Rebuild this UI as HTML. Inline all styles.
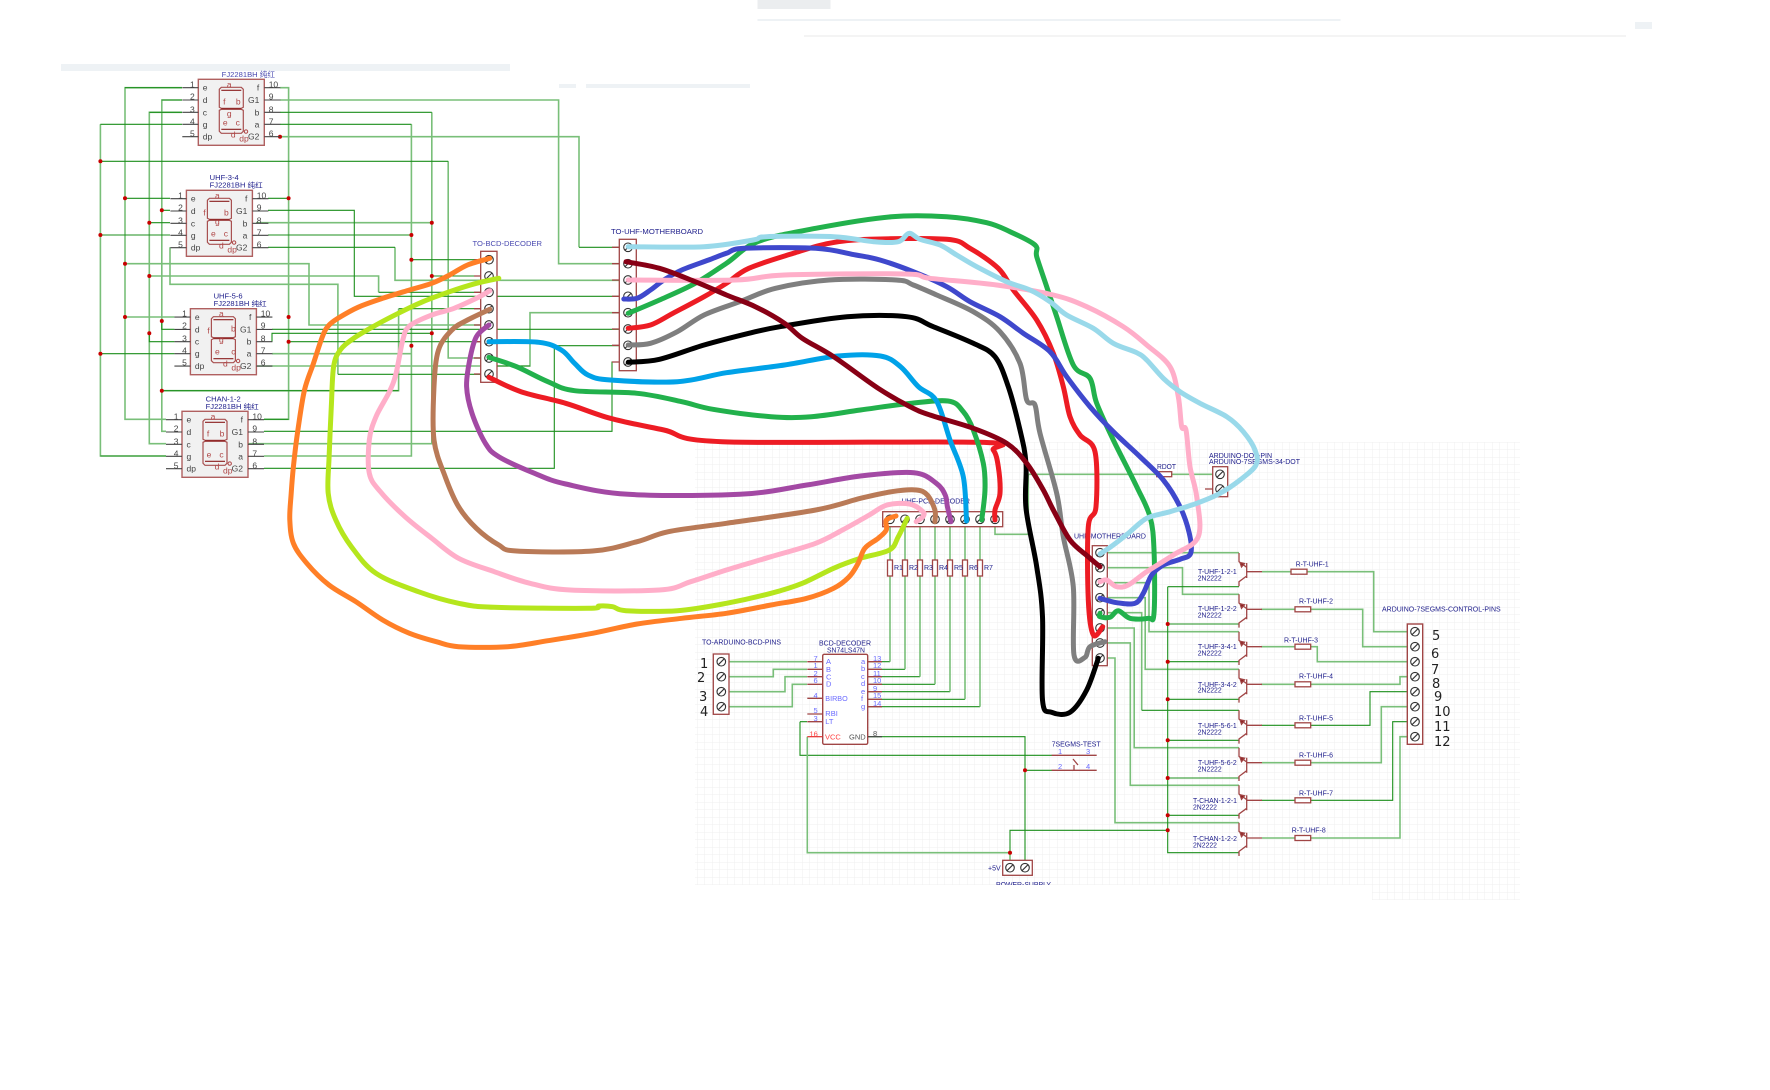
<!DOCTYPE html>
<html><head><meta charset="utf-8"><style>
html,body{margin:0;padding:0;background:#fff;width:1770px;height:1090px;overflow:hidden}
svg{display:block;filter:blur(.35px)}
text{font-family:"Liberation Sans","Noto Sans CJK SC",sans-serif}
.l{fill:none;stroke:#79bf79;stroke-width:1.6}
.d{fill:none;stroke:#1c8f1c;stroke-width:1.1}
.w{fill:none;stroke-width:5;stroke-linejoin:round;stroke-linecap:round}
.m{fill:none;stroke:#a04545;stroke-width:1.3}
.p{font-size:8.5px;fill:#444}
.s{font-size:8.5px;fill:#b04848}
.t{font-size:7px;fill:#20208c}
.h{font-size:7.5px;fill:#4a4ab0}
.b{font-size:7.5px;fill:#6a6aff}
.n{font-size:13px;fill:#222;font-family:"DejaVu Sans",sans-serif}
.r{fill:#fff;stroke:#a04545;stroke-width:1.3}
</style></head><body>
<svg width="1770" height="1090" viewBox="0 0 1770 1090" xmlns="http://www.w3.org/2000/svg">
<defs>
<pattern id="grid" width="7.5" height="7.5" patternUnits="userSpaceOnUse"><path d="M7.5 0V7.5H0" fill="none" stroke="#efefef" stroke-width="1"/></pattern>
<g id="seg"><rect x="0" y="0" width="66" height="66" fill="#f1f1f1" stroke="#b06060" stroke-width="1.4"/>
<g fill="none" stroke="#a85050" stroke-width="1.2"><path d="M23 8H43L45 10V28L43 29H23L21 28V10Z"/><path d="M23 30H43L45 31V52L43 54H23L21 52V31Z"/></g>
<path d="M23 11H43M23 29.500H43M23 50H43" stroke="#8c1f1f" stroke-width="1.2"/>
<circle cx="47.700" cy="52.300" r="1.700" fill="none" stroke="#b04848" stroke-width="1"/>
<path d="M-16 8.400H0M-16 20.700H0M-16 33H0M-16 45H0M-16 57.400H0M66 8.400H82M66 20.700H82M66 33H82M66 45H82M66 57.400H82" stroke="#444" stroke-width="1.1"/></g>
<g id="q" fill="none" stroke="#a04545" stroke-width="1.3"><path d="M1239 0V8.700L1246.700 14.300M1246.700 10V25M1246.700 23L1239 28.700V33.300"/><path d="M1240 9.500L1244.500 10.500L1241.500 14Z" fill="#8c1f1f"/></g>
<g id="sc"><circle r="4.300" fill="#fff" stroke="#333" stroke-width="1.100"/><path d="M-3-3L3 3" transform="rotate(90)" stroke="#333" stroke-width="1.100"/></g>
<g id="rv"><rect x="-2.500" y="0" width="5" height="16" class="r"/></g>
</defs>

<!-- grid and faint bars -->
<rect x="695" y="442" width="825" height="443" fill="url(#grid)"/>
<rect x="1372" y="885" width="148" height="15" fill="url(#grid)"/>
<g fill="#eef2f5"><rect x="61" y="64" width="449" height="7"/><rect x="559" y="84" width="17" height="4"/><rect x="586" y="84" width="164" height="4"/><rect x="757.500" y="19" width="583" height="2"/><rect x="1635" y="22" width="17" height="7"/><rect x="757.500" y="0" width="73" height="9" fill="#ebedef"/><rect x="804" y="35" width="822" height="2" fill="#f4f4f4"/></g>

<!-- left wires -->
<path class="l" d="M280 87.700H288.600V419.300H264M182 87.700H125V419.300H166M182 100H161.800V431.300H166M182 112.300H149.300V443.700H166M100.400 124.300V456H166M280 100H558.600V263.700H619M431.800 112.300V443.700H264M411.400 124.300V456H264M448.200 161.300V358H481M280 136.700H579V247.300M170 247.300V284.300H337.900V374.300M125 263.700H309V325H481M149.300 276H378.600V292.300M398.600 308.700V390.700H161.800M125 317H174.400M256 222.700H431.800M272 353.700H411.400M272 366H530V312.700H619M480 280.300H619M395 247.300V280.300H480M268 222.700H431.800M256 366H272M248 443.700H431.800"/>
<path class="d" d="M182 87.700H125M182 100H161.800M182 112.300H149.300M182 124.300H100.400M280 112.300H431.800M280 124.300H411.400M100.400 161.300H448.200M125 198.300H170M288.600 198.300H268M161.800 210.300H170M149.300 222.700H170M100.400 235H170M268 210.300H354.300V296.300H619M268 235H411.400M268 247.300H395M579 247.300H619M411.400 259.700H481M431.800 276H481M378.600 292.300H481M398.600 308.700H481M337.900 374.300H481M161.800 321V329.300H174.400M149.300 333.300V341.700H174.400M100.400 353.700H174.400M272 329.300H619M272 341.700V333.300H431.800M288.600 341.700H481M530 366H481M264 431.300H612V362H619M264 468.300H554.300V345.700H619M161.800 390.700H398.600M264 419.300H288.600M166 456H100.400"/>

<!-- left red dots -->
<g fill="#c80000"><circle cx="280" cy="136.700" r="2"/><circle cx="100.400" cy="161.300" r="2"/><circle cx="125" cy="198.300" r="2"/><circle cx="288.600" cy="198.300" r="2"/><circle cx="161.800" cy="210.300" r="2"/><circle cx="149.300" cy="222.700" r="2"/><circle cx="100.400" cy="235" r="2"/><circle cx="431.800" cy="222.700" r="2"/><circle cx="411.400" cy="235" r="2"/><circle cx="411.400" cy="259.700" r="2"/><circle cx="125" cy="263.700" r="2"/><circle cx="149.300" cy="276" r="2"/><circle cx="431.800" cy="276" r="2"/><circle cx="125" cy="317" r="2"/><circle cx="288.600" cy="317" r="2"/><circle cx="161.800" cy="321" r="2"/><circle cx="149.300" cy="333.300" r="2"/><circle cx="431.800" cy="333.300" r="2"/><circle cx="288.600" cy="341.700" r="2"/><circle cx="411.400" cy="345.700" r="2"/><circle cx="100.400" cy="353.700" r="2"/><circle cx="161.800" cy="390.700" r="2"/></g>

<!-- seven segment displays -->
<g transform="translate(198.300,79.300)"><use href="#seg"/>
<text class="p" x="-8.300" y="8">1</text><text class="p" x="-8.300" y="20">2</text><text class="p" x="-8.300" y="33">3</text><text class="p" x="-8.300" y="45">4</text><text class="p" x="-8.300" y="57">5</text>
<text class="p" x="4.500" y="11.400">e</text><text class="p" x="4.500" y="23.700">d</text><text class="p" x="4.500" y="36">c</text><text class="p" x="4.500" y="48">g</text><text class="p" x="4.500" y="60.400">dp</text>
<text class="p" x="61" y="11.400" text-anchor="end">f</text><text class="p" x="61" y="23.700" text-anchor="end">G1</text><text class="p" x="61" y="36" text-anchor="end">b</text><text class="p" x="61" y="48" text-anchor="end">a</text><text class="p" x="61" y="60.400" text-anchor="end">G2</text>
<text class="p" x="70.400" y="8">10</text><text class="p" x="70.400" y="20">9</text><text class="p" x="70.400" y="33">8</text><text class="p" x="70.400" y="45">7</text><text class="p" x="70.400" y="57">6</text>
<text class="s" x="31" y="8" text-anchor="middle">a</text><text class="s" x="26" y="25" text-anchor="middle">f</text><text class="s" x="40" y="25" text-anchor="middle">b</text><text class="s" x="31" y="37" text-anchor="middle">g</text><text class="s" x="27" y="46" text-anchor="middle">e</text><text class="s" x="39.500" y="46" text-anchor="middle">c</text><text class="s" x="35" y="58" text-anchor="middle">d</text><text class="s" x="41" y="62">dp</text></g>
<text class="h" x="221.700" y="77" textLength="53.300" lengthAdjust="spacingAndGlyphs">FJ2281BH 纯红</text>

<g transform="translate(186.400,190.300)"><use href="#seg"/>
<text class="p" x="-8.300" y="8">1</text><text class="p" x="-8.300" y="20">2</text><text class="p" x="-8.300" y="33">3</text><text class="p" x="-8.300" y="45">4</text><text class="p" x="-8.300" y="57">5</text>
<text class="p" x="4.500" y="11.400">e</text><text class="p" x="4.500" y="23.700">d</text><text class="p" x="4.500" y="36">c</text><text class="p" x="4.500" y="48">g</text><text class="p" x="4.500" y="60.400">dp</text>
<text class="p" x="61" y="11.400" text-anchor="end">f</text><text class="p" x="61" y="23.700" text-anchor="end">G1</text><text class="p" x="61" y="36" text-anchor="end">b</text><text class="p" x="61" y="48" text-anchor="end">a</text><text class="p" x="61" y="60.400" text-anchor="end">G2</text>
<text class="p" x="70.400" y="8">10</text><text class="p" x="70.400" y="20">9</text><text class="p" x="70.400" y="33">8</text><text class="p" x="70.400" y="45">7</text><text class="p" x="70.400" y="57">6</text>
<text class="s" x="31" y="8" text-anchor="middle">a</text><text class="s" x="18" y="25" text-anchor="middle">f</text><text class="s" x="40" y="25" text-anchor="middle">b</text><text class="s" x="31" y="34" text-anchor="middle">g</text><text class="s" x="27" y="46" text-anchor="middle">e</text><text class="s" x="39.500" y="46" text-anchor="middle">c</text><text class="s" x="35" y="58" text-anchor="middle">d</text><text class="s" x="41" y="62">dp</text></g>
<text class="t" x="209.700" y="180" textLength="29" lengthAdjust="spacingAndGlyphs">UHF-3-4</text>
<text class="t" x="209.700" y="187.500" textLength="53" lengthAdjust="spacingAndGlyphs">FJ2281BH 纯红</text>

<g transform="translate(190.400,308.700)"><use href="#seg"/>
<text class="p" x="-8.300" y="8">1</text><text class="p" x="-8.300" y="20">2</text><text class="p" x="-8.300" y="33">3</text><text class="p" x="-8.300" y="45">4</text><text class="p" x="-8.300" y="57">5</text>
<text class="p" x="4.500" y="11.400">e</text><text class="p" x="4.500" y="23.700">d</text><text class="p" x="4.500" y="36">c</text><text class="p" x="4.500" y="48">g</text><text class="p" x="4.500" y="60.400">dp</text>
<text class="p" x="61" y="11.400" text-anchor="end">f</text><text class="p" x="61" y="23.700" text-anchor="end">G1</text><text class="p" x="61" y="36" text-anchor="end">b</text><text class="p" x="61" y="48" text-anchor="end">a</text><text class="p" x="61" y="60.400" text-anchor="end">G2</text>
<text class="p" x="70.400" y="8">10</text><text class="p" x="70.400" y="20">9</text><text class="p" x="70.400" y="33">8</text><text class="p" x="70.400" y="45">7</text><text class="p" x="70.400" y="57">6</text>
<text class="s" x="31" y="8" text-anchor="middle">a</text><text class="s" x="18" y="25" text-anchor="middle">f</text><text class="s" x="43" y="23" text-anchor="middle">b</text><text class="s" x="31" y="34" text-anchor="middle">g</text><text class="s" x="27" y="46" text-anchor="middle">e</text><text class="s" x="43" y="46" text-anchor="middle">c</text><text class="s" x="35" y="58" text-anchor="middle">d</text><text class="s" x="41" y="62">dp</text></g>
<text class="t" x="213.600" y="298.500" textLength="29" lengthAdjust="spacingAndGlyphs">UHF-5-6</text>
<text class="t" x="213.600" y="306" textLength="53" lengthAdjust="spacingAndGlyphs">FJ2281BH 纯红</text>

<g transform="translate(182,411.300)"><use href="#seg"/>
<text class="p" x="-8.300" y="8">1</text><text class="p" x="-8.300" y="20">2</text><text class="p" x="-8.300" y="33">3</text><text class="p" x="-8.300" y="45">4</text><text class="p" x="-8.300" y="57">5</text>
<text class="p" x="4.500" y="11.400">e</text><text class="p" x="4.500" y="23.700">d</text><text class="p" x="4.500" y="36">c</text><text class="p" x="4.500" y="48">g</text><text class="p" x="4.500" y="60.400">dp</text>
<text class="p" x="61" y="11.400" text-anchor="end">f</text><text class="p" x="61" y="23.700" text-anchor="end">G1</text><text class="p" x="61" y="36" text-anchor="end">b</text><text class="p" x="61" y="48" text-anchor="end">a</text><text class="p" x="61" y="60.400" text-anchor="end">G2</text>
<text class="p" x="70.400" y="8">10</text><text class="p" x="70.400" y="20">9</text><text class="p" x="70.400" y="33">8</text><text class="p" x="70.400" y="45">7</text><text class="p" x="70.400" y="57">6</text>
<text class="s" x="31" y="8" text-anchor="middle">a</text><text class="s" x="26" y="25" text-anchor="middle">f</text><text class="s" x="40" y="25" text-anchor="middle">b</text><text class="s" x="27" y="46" text-anchor="middle">e</text><text class="s" x="39.500" y="46" text-anchor="middle">c</text><text class="s" x="35" y="58" text-anchor="middle">d</text><text class="s" x="41" y="62">dp</text></g>
<text class="t" x="205.700" y="401.500" textLength="35" lengthAdjust="spacingAndGlyphs">CHAN-1-2</text>
<text class="t" x="205.700" y="409" textLength="53" lengthAdjust="spacingAndGlyphs">FJ2281BH 纯红</text>

<!-- Left connectors -->
<rect x="480.700" y="251.300" width="16.300" height="131" fill="#fff" stroke="#a04545" stroke-width="1.300"/>
<path class="m" d="M474 259.700H481M474 276H481M474 292.300H481M474 308.700H481M474 325H481M474 341.700H481M474 358H481M474 374H481"/>
<g><use href="#sc" x="489" y="259.700"/><use href="#sc" x="489" y="276"/><use href="#sc" x="489" y="292.300"/><use href="#sc" x="489" y="308.700"/><use href="#sc" x="489" y="325"/><use href="#sc" x="489" y="341.700"/><use href="#sc" x="489" y="358"/><use href="#sc" x="489" y="374"/></g>
<text class="h" x="472.500" y="246" textLength="69.500" lengthAdjust="spacingAndGlyphs" style="font-size:7.500px">TO-BCD-DECODER</text>
<rect x="619.300" y="239.300" width="17" height="131.400" fill="#fff" stroke="#a04545" stroke-width="1.300"/>
<path class="m" d="M612 247.300H619M612 263.700H619M612 280H619M612 296.300H619M612 312.700H619M612 329H619M612 345.300H619M612 362H619"/>
<g><use href="#sc" x="628" y="247.300"/><use href="#sc" x="628" y="263.700"/><use href="#sc" x="628" y="280"/><use href="#sc" x="628" y="296.300"/><use href="#sc" x="628" y="312.700"/><use href="#sc" x="628" y="329"/><use href="#sc" x="628" y="345.300"/><use href="#sc" x="628" y="362"/></g>
<text class="t" x="611" y="234" textLength="92" lengthAdjust="spacingAndGlyphs">TO-UHF-MOTHERBOARD</text>

<!-- right wires -->
<path class="d" d="M890 661.700H868M905 669.300H868M920 676.700H868M935 684.300H868M950 691.700H868M965 699.300H868M980 706.700H868"/>
<path class="l" d="M890 527V560M905 527V560M920 527V560M935 527V560M950 527V560M965 527V560M980 527V560M890 576V661.700M905 576V669.300M920 576V676.700M935 576V684.300M950 576V691.700M965 576V699.300M980 576V706.700"/>
<path class="l" d="M729 661.700H807M729 676.700H773.300V669.300H807M729 691.700H785V676.700H807M729 706.700H792.300V684.300H807"/>
<path class="d" d="M868 736.700H1025V860M800 721.700V755.300H1052M807 721.700H800M1025 770.300H1052M1010 852.700V830.300H1168"/>
<path class="l" d="M807.300 736.700V852.700H1010V860M1107 552.700H1239M1107 567.700H1182.500V594.300H1239M1107 582.700H1149V631.700H1239M1107 597.700H1145.200V669.300H1239M1107 612.700H1141.700V710.300M1107 628H1134.200V747.700H1239M1107 642.900H1130.300V785.300H1239M1107 658H1115V822.700H1239M995 527V534.300H1028.300V474.300H1156.700M1171.700 474.300H1212.700"/>
<path class="d" d="M1141.700 710.300H1239M1167.700 586.700V852.700H1239M1167.700 586.700H1239M1167.700 624H1239M1167.700 661.700H1239M1167.700 699.300H1239M1167.700 740.300H1239M1167.700 778H1239M1167.700 815.300H1239"/>
<path class="l" d="M1262 571.700H1291M1307 571.700H1373.700V631.700H1407M1310.700 609.300H1362.700V646.700H1407M1261 609.300H1295M1261 646.700H1295M1310.700 646.700H1317.300V661.700H1407M1261 684.300H1295M1310.700 684.300H1400V676.700H1407M1262 762.700H1295M1310.700 762.700H1381.300V706.700H1407M1262 838H1295M1310.700 838H1400V736.700H1407"/>
<path class="d" d="M1261 725.300H1295M1310.700 725.300H1370V691.700H1407M1261 800.300H1295M1310.700 800.300H1392.700V721.700H1407"/>
<g fill="#c80000"><circle cx="1167.700" cy="624" r="2"/><circle cx="1167.700" cy="661.700" r="2"/><circle cx="1167.700" cy="699.300" r="2"/><circle cx="1167.700" cy="740.300" r="2"/><circle cx="1167.700" cy="778" r="2"/><circle cx="1167.700" cy="815.300" r="2"/><circle cx="1167.700" cy="830.300" r="2"/><circle cx="1025" cy="770.300" r="2"/><circle cx="1010" cy="852.700" r="2"/></g>

<!-- R1-R7 -->
<use href="#rv" x="890" y="560"/><use href="#rv" x="905" y="560"/><use href="#rv" x="920" y="560"/><use href="#rv" x="935" y="560"/><use href="#rv" x="950" y="560"/><use href="#rv" x="965" y="560"/><use href="#rv" x="980" y="560"/>
<g class="t"><text class="t" x="894" y="570">R1</text><text class="t" x="909" y="570">R2</text><text class="t" x="924" y="570">R3</text><text class="t" x="939" y="570">R4</text><text class="t" x="954" y="570">R5</text><text class="t" x="969" y="570">R6</text><text class="t" x="984" y="570">R7</text></g>

<!-- PCB decoder connector -->
<rect x="882.700" y="511.700" width="120" height="15" fill="#fff" stroke="#a04545" stroke-width="1.300"/>
<use href="#sc" x="890" y="519.300"/><use href="#sc" x="905" y="519.300"/><use href="#sc" x="920" y="519.300"/><use href="#sc" x="935" y="519.300"/><use href="#sc" x="950" y="519.300"/><use href="#sc" x="965" y="519.300"/><use href="#sc" x="980" y="519.300"/><use href="#sc" x="995" y="519.300"/>
<text class="t" x="901.700" y="503.500" textLength="68.300" lengthAdjust="spacingAndGlyphs">UHF-PCB-DECODER</text>

<!-- arduino BCD pins -->
<rect x="713.300" y="654" width="15.700" height="60.300" fill="#fff" stroke="#a04545" stroke-width="1.300"/>
<use href="#sc" x="721.300" y="661.700"/><use href="#sc" x="721.300" y="676.700"/><use href="#sc" x="721.300" y="691.700"/><use href="#sc" x="721.300" y="706.700"/>
<text class="t" x="702" y="644.500" textLength="79" lengthAdjust="spacingAndGlyphs">TO-ARDUINO-BCD-PINS</text>
<text class="n" x="700" y="668">1</text><text class="n" x="697" y="682">2</text><text class="n" x="699" y="701">3</text><text class="n" x="700" y="716">4</text>

<!-- Decoder -->
<rect x="822.700" y="654.300" width="45" height="90" rx="1.500" fill="#fff" stroke="#a04545" stroke-width="1.400"/>
<path class="m" d="M807.300 661.700H822.700M807.300 669.300H822.700M807.300 676.700H822.700M807.300 684.300H822.700M807.300 698.300H822.700M807.300 714H822.700M807.300 721.700H822.700M868 661.700H882M868 669.300H882M868 676.700H882M868 684.300H882M868 691.700H882M868 699.300H882M868 706.700H882"/>
<path d="M807.300 736.700H822.700" stroke="#e03030" stroke-width="1.200"/><path d="M868 736.700H882" stroke="#444" stroke-width="1.200"/>
<text class="b" x="826" y="664">A</text><text class="b" x="826" y="672">B</text><text class="b" x="826" y="679.500">C</text><text class="b" x="826" y="686.500">D</text><text class="b" x="825.300" y="701" textLength="22.400" lengthAdjust="spacingAndGlyphs">BIRBO</text><text class="b" x="825.300" y="716">RBI</text><text class="b" x="825.300" y="724">LT</text>
<text class="b" x="825" y="739.500" style="fill:#ff4040">VCC</text><text class="b" x="849" y="739.500" style="fill:#555">GND</text>
<text class="b" x="861" y="664">a</text><text class="b" x="861" y="671">b</text><text class="b" x="861" y="679">c</text><text class="b" x="861" y="686">d</text><text class="b" x="861" y="694">e</text><text class="b" x="861" y="701">f</text><text class="b" x="861" y="709">g</text>
<text class="b" x="813.500" y="661">7</text><text class="b" x="813.500" y="668">1</text><text class="b" x="813.500" y="676">2</text><text class="b" x="813.500" y="683">6</text><text class="b" x="813.500" y="698">4</text><text class="b" x="813.500" y="713">5</text><text class="b" x="813.500" y="721">3</text><text class="b" x="809.500" y="736.500" style="fill:#ff4040">16</text>
<text class="b" x="873" y="661">13</text><text class="b" x="873" y="668">12</text><text class="b" x="873" y="676">11</text><text class="b" x="873" y="683">10</text><text class="b" x="873" y="691">9</text><text class="b" x="873" y="698">15</text><text class="b" x="873" y="706">14</text><text class="b" x="873" y="736" style="fill:#555">8</text>
<text class="t" x="819" y="645.500" textLength="52" lengthAdjust="spacingAndGlyphs">BCD-DECODER</text>
<text class="t" x="827" y="652.500" textLength="38" lengthAdjust="spacingAndGlyphs">SN74LS47N</text>

<!-- Switch -->
<path class="m" d="M1051.700 755.300H1096.700M1051.700 770.300H1096.700M1073 759L1078 765M1074 765V770"/>
<text class="t" x="1051.700" y="746.500" textLength="49" lengthAdjust="spacingAndGlyphs">7SEGMS-TEST</text>
<text class="b" x="1058" y="754">1</text><text class="b" x="1086" y="754">3</text><text class="b" x="1058" y="769">2</text><text class="b" x="1086" y="769">4</text>

<!-- +5V -->
<rect x="1002.700" y="860.300" width="29.600" height="15" fill="#fff" stroke="#a04545" stroke-width="1.300"/>
<use href="#sc" x="1010" y="867.700"/><use href="#sc" x="1025" y="867.700"/>
<text class="t" x="988" y="870.500">+5V</text>
<text class="t" x="996" y="887" textLength="55" lengthAdjust="spacingAndGlyphs">POWER-SUPPLY</text>
<rect x="990" y="885" width="70" height="6" fill="#fff"/>

<!-- Motherboard connector -->
<rect x="1092.300" y="545.700" width="15" height="120" fill="#fff" stroke="#a04545" stroke-width="1.300"/>
<use href="#sc" x="1100" y="552.700"/><use href="#sc" x="1100" y="567.700"/><use href="#sc" x="1100" y="582.700"/><use href="#sc" x="1100" y="597.700"/><use href="#sc" x="1100" y="612.700"/><use href="#sc" x="1100" y="628"/><use href="#sc" x="1100" y="643"/><use href="#sc" x="1100" y="658"/>
<text class="t" x="1074" y="538.500" textLength="72" lengthAdjust="spacingAndGlyphs">UHF-MOTHERBOARD</text>

<!-- RDOT & dot connector -->
<rect x="1156.700" y="471.700" width="15" height="5" class="r"/>
<text class="t" x="1157" y="469" textLength="19" lengthAdjust="spacingAndGlyphs">RDOT</text>
<rect x="1212.700" y="466.700" width="15" height="30" fill="#fff" stroke="#a04545" stroke-width="1.300"/>
<path class="m" d="M1205 489H1212.700"/>
<use href="#sc" x="1220" y="474.300"/><use href="#sc" x="1220" y="489"/>
<text class="t" x="1209" y="458" textLength="63" lengthAdjust="spacingAndGlyphs">ARDUINO-DOT-PIN</text>
<text class="t" x="1209" y="464" textLength="91" lengthAdjust="spacingAndGlyphs">ARDUINO-7SEGMS-34-DOT</text>

<!-- transistors -->
<use href="#q" y="553"/><use href="#q" y="594.300"/><use href="#q" y="631.700"/><use href="#q" y="669.300"/><use href="#q" y="710.300"/><use href="#q" y="747.700"/><use href="#q" y="785.300"/><use href="#q" y="822.700"/>
<path class="m" d="M1246.700 571.700H1262M1246.700 609.300H1262M1246.700 646.700H1262M1246.700 684.300H1262M1246.700 725.300H1262M1246.700 762.700H1262M1246.700 800.300H1262M1246.700 838H1262"/>
<g>
<text class="t" x="1198" y="574" textLength="38.700" lengthAdjust="spacingAndGlyphs">T-UHF-1-2-1</text><text class="t" x="1197.700" y="580.700" textLength="24" lengthAdjust="spacingAndGlyphs">2N2222</text>
<text class="t" x="1198" y="611" textLength="38.700" lengthAdjust="spacingAndGlyphs">T-UHF-1-2-2</text><text class="t" x="1197.700" y="617.700" textLength="24" lengthAdjust="spacingAndGlyphs">2N2222</text>
<text class="t" x="1198" y="649" textLength="38.700" lengthAdjust="spacingAndGlyphs">T-UHF-3-4-1</text><text class="t" x="1197.700" y="655.700" textLength="24" lengthAdjust="spacingAndGlyphs">2N2222</text>
<text class="t" x="1198" y="687" textLength="38.700" lengthAdjust="spacingAndGlyphs">T-UHF-3-4-2</text><text class="t" x="1197.700" y="692.700" textLength="24" lengthAdjust="spacingAndGlyphs">2N2222</text>
<text class="t" x="1198" y="728" textLength="38.700" lengthAdjust="spacingAndGlyphs">T-UHF-5-6-1</text><text class="t" x="1197.700" y="734.700" textLength="24" lengthAdjust="spacingAndGlyphs">2N2222</text>
<text class="t" x="1198" y="765" textLength="38.700" lengthAdjust="spacingAndGlyphs">T-UHF-5-6-2</text><text class="t" x="1197.700" y="771.700" textLength="24" lengthAdjust="spacingAndGlyphs">2N2222</text>
<text class="t" x="1193" y="803" textLength="44" lengthAdjust="spacingAndGlyphs">T-CHAN-1-2-1</text><text class="t" x="1193" y="809.700" textLength="24" lengthAdjust="spacingAndGlyphs">2N2222</text>
<text class="t" x="1193" y="841" textLength="44" lengthAdjust="spacingAndGlyphs">T-CHAN-1-2-2</text><text class="t" x="1193" y="847.700" textLength="24" lengthAdjust="spacingAndGlyphs">2N2222</text>
</g>

<!-- base resistors -->
<rect x="1291" y="569.200" width="16" height="5" class="r"/><rect x="1295" y="606.800" width="15.700" height="5" class="r"/><rect x="1295" y="644.200" width="15.700" height="5" class="r"/><rect x="1295" y="681.800" width="15.700" height="5" class="r"/><rect x="1295" y="722.800" width="15.700" height="5" class="r"/><rect x="1295" y="760.200" width="15.700" height="5" class="r"/><rect x="1295" y="797.800" width="15.700" height="5" class="r"/><rect x="1295" y="835.500" width="15.700" height="5" class="r"/>
<text class="t" x="1295.700" y="566.500" textLength="33" lengthAdjust="spacingAndGlyphs">R-T-UHF-1</text>
<text class="t" x="1299" y="603.500" textLength="34" lengthAdjust="spacingAndGlyphs">R-T-UHF-2</text>
<text class="t" x="1284" y="642.500" textLength="34" lengthAdjust="spacingAndGlyphs">R-T-UHF-3</text>
<text class="t" x="1299" y="678.500" textLength="34" lengthAdjust="spacingAndGlyphs">R-T-UHF-4</text>
<text class="t" x="1299" y="720.500" textLength="34" lengthAdjust="spacingAndGlyphs">R-T-UHF-5</text>
<text class="t" x="1299" y="757.500" textLength="34" lengthAdjust="spacingAndGlyphs">R-T-UHF-6</text>
<text class="t" x="1299" y="795.500" textLength="34" lengthAdjust="spacingAndGlyphs">R-T-UHF-7</text>
<text class="t" x="1291.700" y="832.500" textLength="34" lengthAdjust="spacingAndGlyphs">R-T-UHF-8</text>

<!-- control connector -->
<rect x="1407.300" y="624" width="15.400" height="120.300" fill="#fff" stroke="#a04545" stroke-width="1.400"/>
<use href="#sc" x="1415" y="631.700"/><use href="#sc" x="1415" y="646.700"/><use href="#sc" x="1415" y="661.700"/><use href="#sc" x="1415" y="676.700"/><use href="#sc" x="1415" y="691.700"/><use href="#sc" x="1415" y="706.700"/><use href="#sc" x="1415" y="721.700"/><use href="#sc" x="1415" y="736.700"/>
<text class="t" x="1382" y="611.500" textLength="118.700" lengthAdjust="spacingAndGlyphs">ARDUINO-7SEGMS-CONTROL-PINS</text>
<text class="n" x="1432" y="640">5</text><text class="n" x="1431" y="658">6</text><text class="n" x="1431" y="674">7</text><text class="n" x="1432" y="688">8</text><text class="n" x="1434" y="701">9</text><text class="n" x="1434" y="716">10</text><text class="n" x="1434" y="731">11</text><text class="n" x="1434" y="746">12</text>

<!-- thick hand-drawn wires -->
<path class="w" stroke="#22b14c" d="M628.200 313.300L659.500 300L695.200 283.300L726.400 263.300L757.700 241.700L815.700 228.300L891.600 216.700L946.700 216.700L986.700 222.700L1010 231.700L1035 245L1036.700 256.700L1046.700 286.700L1056.700 316.700L1073.300 365L1090 378.300L1096.700 403.300L1113.300 440L1136.700 486.700L1150 516.700L1154 550L1154 613.300L1148.300 618.300L1130 618.300L1118.300 610.700L1110 617.300L1100 616.700L1100 613.300"/>
<path class="w" stroke="#ed1c24" d="M628.200 328.300L650.500 325L672.900 313.300L704.100 296.700L726.400 283.300L748.800 268.300L793.400 253.300L829.100 243.300L869.300 239.300L946.700 239.300L970 248.300L998.300 268.300L1013.300 290L1036.700 320L1053.300 353.300L1063.300 386.700L1070 416.700L1080 435L1095 451.700L1096 506.700L1088.300 526.700L1088.300 600L1093.300 635L1102.700 626.700"/>
<path class="w" stroke="#3f48cc" d="M623.800 299L637.100 298.300L650.500 290L663.900 280L681.800 270L708.600 260L726.400 253.300L744.300 248.300L815.700 248.300L855.900 255L880 260L913.300 271.700L946.700 286.700L970 301.700L1000 316.700L1023.300 333.300L1050 351.700L1066.700 376.700L1090 406.700L1113.300 431.700L1140 456.700L1163.300 480L1180 506.700L1189.300 533.300L1190.700 553.300L1180 559.300L1163.300 565L1151.700 575L1143.300 593.300L1135 603.300L1116.700 602.700L1100 598.300"/>
<path class="w" stroke="#7f7f7f" d="M628.200 345L650.500 343.300L677.300 331.700L704.100 315L739.800 301.700L775.500 288.300L829.100 280L896 280L913.300 285L936.700 295L973.300 311.700L1000 331.700L1020 363.300L1026.700 400L1035 405L1040 433.300L1056.700 493.300L1063.300 536.700L1073.300 586.700L1074 655L1085 657.300L1090 646.700L1105 641.700"/>
<path class="w" stroke="#000" d="M628.200 362.300L659.500 359.300L704.100 345L748.800 333.300L780 326.700L847 316.700L906.700 316.700L933.300 326.700L973.300 343.300L995 356.700L1008.300 386.700L1020 430L1026 463.300L1026 508.300L1036.700 566.700L1042.500 616.700L1042.500 700L1051.700 712.300L1070 712.300L1086.700 690L1098.300 658.300"/>
<path class="w" stroke="#ffaec9" d="M628.200 280L735.400 280L784.500 275L905 274L930 278.300L996.700 285L1053.300 295L1086.700 306.700L1123.300 326.700L1146.700 345L1170 366.700L1178.300 396.700L1181.700 426.700L1186 430L1190 466.700L1196.700 496.700L1198.300 536.700L1173.300 555L1146.700 571.700L1128.300 585L1116.700 586.700L1106.700 580L1100 581.700"/>
<path class="w" stroke="#99d9ea" d="M628.200 246.700L704.100 246.700L753.200 240L766.600 236.700L833.600 236.700L873.800 241.700L898.300 241.700L909 233.300L920 239.300L940 245L956.700 255L976.700 266.700L1006.700 281.700L1030 290L1050 301.700L1066.700 315L1093.300 328.300L1113.300 343.300L1136.700 352.700L1146.700 360L1163.300 378.300L1180 391.700L1200 403.300L1226.700 416.700L1243.300 431.700L1255 450L1256 465L1240 480L1220 493.300L1196.700 503.300L1170 511.700L1146.700 518.300L1128.300 533.300L1113.300 545L1100 554"/>
<path class="w" stroke="#ed1c24" d="M488.900 377.300L521 391.700L565.700 403.300L610.400 418.300L663.900 430L722 441.700L980 442.300L993.300 450L998.300 466.700L1000 493.300L995 510L995 520"/>
<path class="w" stroke="#22b14c" d="M488.900 357.300L516.600 366.700L547.900 381.700L574.600 390.700L637.100 393.300L681.800 401.700L713 409.300L771 416.700L811.300 416.700L860.400 410L905 404L948 401L963.300 411.700L973.300 430L983.300 463.300L985 490L981.700 520"/>
<path class="w" stroke="#00a2e8" d="M488.900 341.700L538.900 342.300L561.300 350L574.600 363.300L588 375L610.400 380L677.300 381.700L726.400 372.700L784.500 365L838 356L880.400 356L900.500 366.700L918.400 386.700L936.500 401L950 440L963.300 476.700L966.500 521"/>
<path class="w" stroke="#a349a4" d="M488.900 325L476.400 336.700L469.700 360L466.600 386.700L472 413.300L485.400 443.300L498.800 456.700L534.500 473.300L565.700 484L628.200 494.300L739.800 494.300L806.800 485L860.400 476L913.900 472.700L936.300 483.300L945.200 495L947.400 506.700L951 521.700"/>
<path class="w" stroke="#b97a57" d="M489.800 309.300L467.500 320L451.900 330L438.500 350L434 386.700L434 440L445.200 476.700L458.600 506.700L476.400 528.300L498.800 545L516.600 551L592.500 551L637.100 541.700L668.400 531.700L726.400 523.300L815.700 510L860.400 498.300L891.600 491.700L916.200 490L927.300 495L934.900 510L934.900 521.700"/>
<path class="w" stroke="#ffaec9" d="M489.800 290.700L476.400 298.300L454.100 308.300L431.800 315L409.500 326L402.800 340L396.100 373.300L389.400 391.700L376 416.700L369.300 440L369.300 473.300L380.400 491.700L405 516.700L431.800 538.300L458.600 558.300L494.300 571.700L530 583.300L570.200 590L659.500 590L690.700 581.700L726.400 570L771 556.700L815.700 543.300L842.500 530L869.300 515L887.100 505L909.500 504L922.900 511.700L922.900 516.700L916.200 521.700"/>
<path class="w" stroke="#b5e61d" d="M498.800 278.300L476.400 283.300L449.600 291.700L422.900 301.700L398.300 313.300L376 325L353.700 338.300L340.300 350L333.600 366.700L331.300 406.700L329.100 456.700L328.200 493.300L335.800 520L351.400 546.700L376 573.300L418.400 591.700L458.600 603.300L494.300 607.300L588 608.300L599.200 606L612.600 606.700L626 610.700L677.300 610.700L726.400 603.300L771 593.300L802.300 583.300L833.600 568.300L860.400 558.300L889.400 550L898.300 536.700L907.200 518.300"/>
<path class="w" stroke="#ff7f27" d="M489.800 258.300L467.500 265L449.600 275L431.800 283.300L409.500 290L382.700 298.300L358 307.300L338 318.300L328.200 326L322.400 336.700L313.500 363.300L304.500 390L297.900 430L293.400 466.700L291.200 493.300L289.800 520L293.400 543.300L306.800 563.300L329 585L355.900 601.700L382.700 620L409.500 633.300L436.300 641.700L458.600 646.700L507.700 646.700L547.900 640.700L592.500 633.300L637.100 624L681.800 618.300L726.400 613.300L771 605L806.800 598.300L833.600 588.300L849.200 576.700L858.100 563.300L864.800 548.300L878.200 538.300L886.300 530L886.300 520L896 516"/>
<path class="w" stroke="#880015" d="M626 261.700L659.500 268.300L695.200 281.700L726.400 295L755.400 306.700L784.500 323.300L802.300 338.300L833.600 356.700L878.200 388.300L910 406.700L930 415L973.300 428.300L1006.700 443.300L1026.700 463.300L1043.300 490L1053.300 510L1070 540L1088.300 556.700L1100 566.700"/>
</svg>
<script>
document.querySelectorAll('path.w').forEach(function(e){
var n=e.getAttribute('d').match(/-?[\d.]+/g).map(Number),p=[];
for(var i=0;i<n.length;i+=2)p.push([n[i],n[i+1]]);
var d='M'+p[0][0]+' '+p[0][1];
for(i=0;i<p.length-1;i++){
var a=p[Math.max(i-1,0)],b=p[i],c=p[i+1],f=p[Math.min(i+2,p.length-1)];
d+='C'+(b[0]+(c[0]-a[0])/6).toFixed(1)+' '+(b[1]+(c[1]-a[1])/6).toFixed(1)+' '+(c[0]-(f[0]-b[0])/6).toFixed(1)+' '+(c[1]-(f[1]-b[1])/6).toFixed(1)+' '+c[0]+' '+c[1];
}
e.setAttribute('d',d);
});
</script>
</body></html>
